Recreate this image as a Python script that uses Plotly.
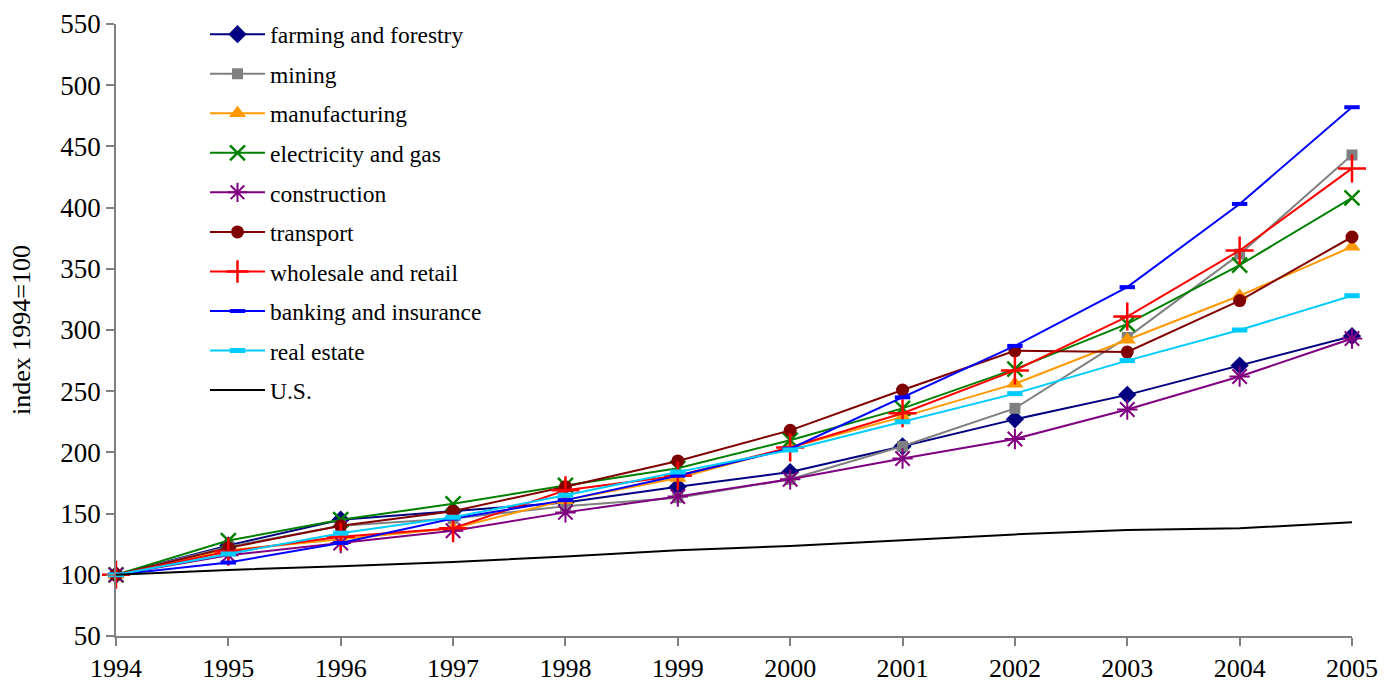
import plotly.graph_objects as go

years = [1994, 1995, 1996, 1997, 1998, 1999, 2000, 2001, 2002, 2003, 2004, 2005]

farming_forestry = [100, 124, 145, 152, 159, 172, 184, 205, 227, 247, 271, 295]
mining = [100, 123, 140, 146, 156, 163, 178, 205, 236, 294, 362, 443]
manufacturing = [100, 120, 129, 138, 161, 179, 204, 229, 256, 292, 328, 368]
electricity_gas = [100, 128, 145, 158, 173, 187, 210, 236, 268, 305, 353, 408]
construction = [100, 116, 126, 136, 151, 164, 178, 195, 211, 235, 262, 293]
transport = [100, 122, 140, 152, 172, 193, 218, 251, 283, 282, 324, 376]
wholesale_retail = [100, 119, 131, 138, 169, 181, 204, 232, 267, 311, 365, 432]
banking_insurance = [100, 110, 126, 146, 161, 181, 203, 245, 287, 335, 403, 482]
real_estate = [100, 117, 134, 147, 165, 184, 202, 225, 248, 275, 300, 328]
us_total = [100, 104, 107, 110.5, 115, 120, 123.5, 128.5, 133, 136.5, 138, 143]

y_ticks = [50, 100, 150, 200, 250, 300, 350, 400, 450, 500, 550]

FONT = "Liberation Serif"

# (name, values, colour, marker symbol, marker size, marker outline width)
series = [
    ("farming and forestry", farming_forestry, "#000080", "diamond", 14, 0),
    ("mining", mining, "#808080", "square", 11, 0),
    ("manufacturing", manufacturing, "#FF9900", "triangle-up", 15, 0),
    ("electricity and gas", electricity_gas, "#008000", "x-thin-open", 15, 2.5),
    ("construction", construction, "#800080", "asterisk-open", 17, 2),
    ("transport", transport, "#800000", "circle", 13, 0),
    ("wholesale and retail", wholesale_retail, "#FF0000", "cross-thin-open", 20, 2.5),
    ("banking and insurance", banking_insurance, "#0000FF", "line-ew-open", 11, 4),
    ("real estate", real_estate, "#00CCFF", "line-ew-open", 11, 5),
]

fig = go.Figure()

for name, vals, color, symbol, size, lw in series:
    fig.add_trace(go.Scatter(
        x=years, y=vals, name=name, mode="lines+markers",
        legendgroup=name,
        line=dict(color=color, width=2),
        marker=dict(symbol=symbol, size=size, color=color,
                    line=dict(color=color, width=lw)),
        cliponaxis=False,
    ))

fig.add_trace(go.Scatter(
    x=years, y=us_total, name="U.S.", mode="lines", legendgroup="U.S.",
    line=dict(color="#000000", width=2), cliponaxis=False,
))

fig.update_layout(
    width=1385, height=690,
    margin=dict(l=116, r=33, t=22, b=54),
    paper_bgcolor="white", plot_bgcolor="white",
    font=dict(family=FONT, size=26, color="black"),
    showlegend=True,
    legend=dict(
        x=0.072, y=1.019, xanchor="left", yanchor="top",
        bgcolor="rgba(255,255,255,0)",
        font=dict(family=FONT, size=23.5, color="black"),
        tracegroupgap=6, itemwidth=55, maxheight=600,
    ),
    xaxis=dict(
        range=[1994, 2005], tickmode="array", tickvals=years,
        ticktext=[str(y) for y in years], automargin=False,
        showline=True, linecolor="#808080", linewidth=1.5,
        ticks="outside", ticklen=8, tickcolor="#808080", tickwidth=1.5,
        showgrid=False, zeroline=False,
        tickfont=dict(family=FONT, size=26, color="black"),
    ),
    yaxis=dict(
        range=[50, 550], tickmode="array", tickvals=y_ticks, automargin=False,
        showline=True, linecolor="#808080", linewidth=1.5,
        ticks="outside", ticklen=8, tickcolor="#808080", tickwidth=1.5,
        showgrid=False, zeroline=False,
        tickfont=dict(family=FONT, size=27, color="black"),
        title=dict(text="index 1994=100", standoff=22,
                   font=dict(family=FONT, size=26, color="black")),
    ),
)

fig.write_html("out.html")
